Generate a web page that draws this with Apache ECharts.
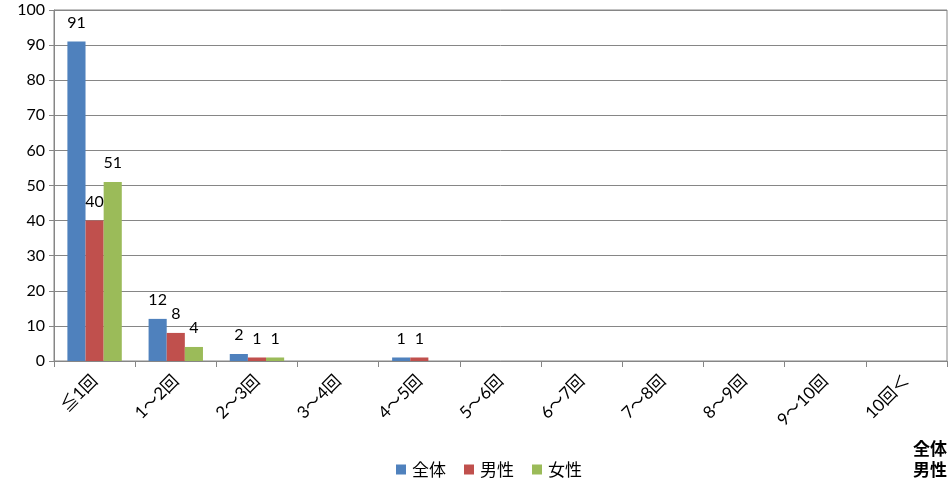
<!DOCTYPE html>
<html><head><meta charset="utf-8">
<script src="https://cdn.jsdelivr.net/npm/echarts@6/dist/echarts.min.js"></script>
<style>html,body{margin:0;padding:0;background:#fff}#c{width:950px;height:479px}</style>
</head><body><div id="c"></div>
<script>
const categories = ["≦1回","1～2回","2～3回","3～4回","4～5回","5～6回","6～7回","7～8回","8～9回","9～10回","10回＜"];
const seriesNames = ["全体","男性","女性"];
const zentai = [91,12,2,0,1,0,0,0,0,0,0];
const dansei = [40,8,1,0,1,0,0,0,0,0,0];
const josei = [51,4,1,0,0,0,0,0,0,0,0];
const yTicks = [0,10,20,30,40,50,60,70,80,90,100];
const colors = ["#4F81BD","#C0504D","#9BBB59"];
const FONT = 'Lato, "Noto Sans CJK JP", sans-serif';
const JFONT = '"Noto Sans CJK JP", sans-serif';
const chart = echarts.init(document.getElementById('c'));
const mk = (name, data, color) => ({
  name, type:'bar', data, barGap:'0%', barCategoryGap:'33%',
  itemStyle:{color},
  label:{show:true, position:'top', distance:11, color:'#000', fontSize:16, fontFamily:FONT,
    formatter: p => p.value === 0 ? '' : String(p.value)}
});
chart.setOption({
  animation:false,
  textStyle:{fontFamily:FONT},
  grid:{left:54, right:3, top:10, bottom:118, show:true, borderColor:'#868686', borderWidth:1},
  legend:{top:456, left:391, itemWidth:10, itemHeight:10, itemGap:18, icon:'rect',
    textStyle:{fontSize:17, color:'#000', fontFamily:JFONT, padding:[0,0,0,1]}, data:seriesNames},
  xAxis:{type:'category', data:categories,
    axisLine:{lineStyle:{color:'#868686'}},
    axisTick:{show:true, length:6, lineStyle:{color:'#868686'}},
    axisLabel:{rotate:45, fontSize:17, color:'#000', margin:17, fontFamily:FONT, interval:0}},
  yAxis:{type:'value', min:0, max:100, interval:10,
    axisLine:{show:true, lineStyle:{color:'#868686'}},
    axisTick:{show:true, length:5, lineStyle:{color:'#868686'}},
    splitLine:{lineStyle:{color:'#868686'}},
    axisLabel:{fontSize:16, color:'#000', margin:9, fontFamily:FONT,
      formatter: v => yTicks.includes(v) ? String(v) : ''}},
  graphic:[
    {type:'text', right:3, top:438, style:{text:'全体\n男性', fontSize:17, lineHeight:21, fill:'#000', fontFamily:JFONT, fontWeight:'bold'}}
  ],
  series:[mk(seriesNames[0], zentai, colors[0]), mk(seriesNames[1], dansei, colors[1]), mk(seriesNames[2], josei, colors[2])]
});
</script></body></html>
